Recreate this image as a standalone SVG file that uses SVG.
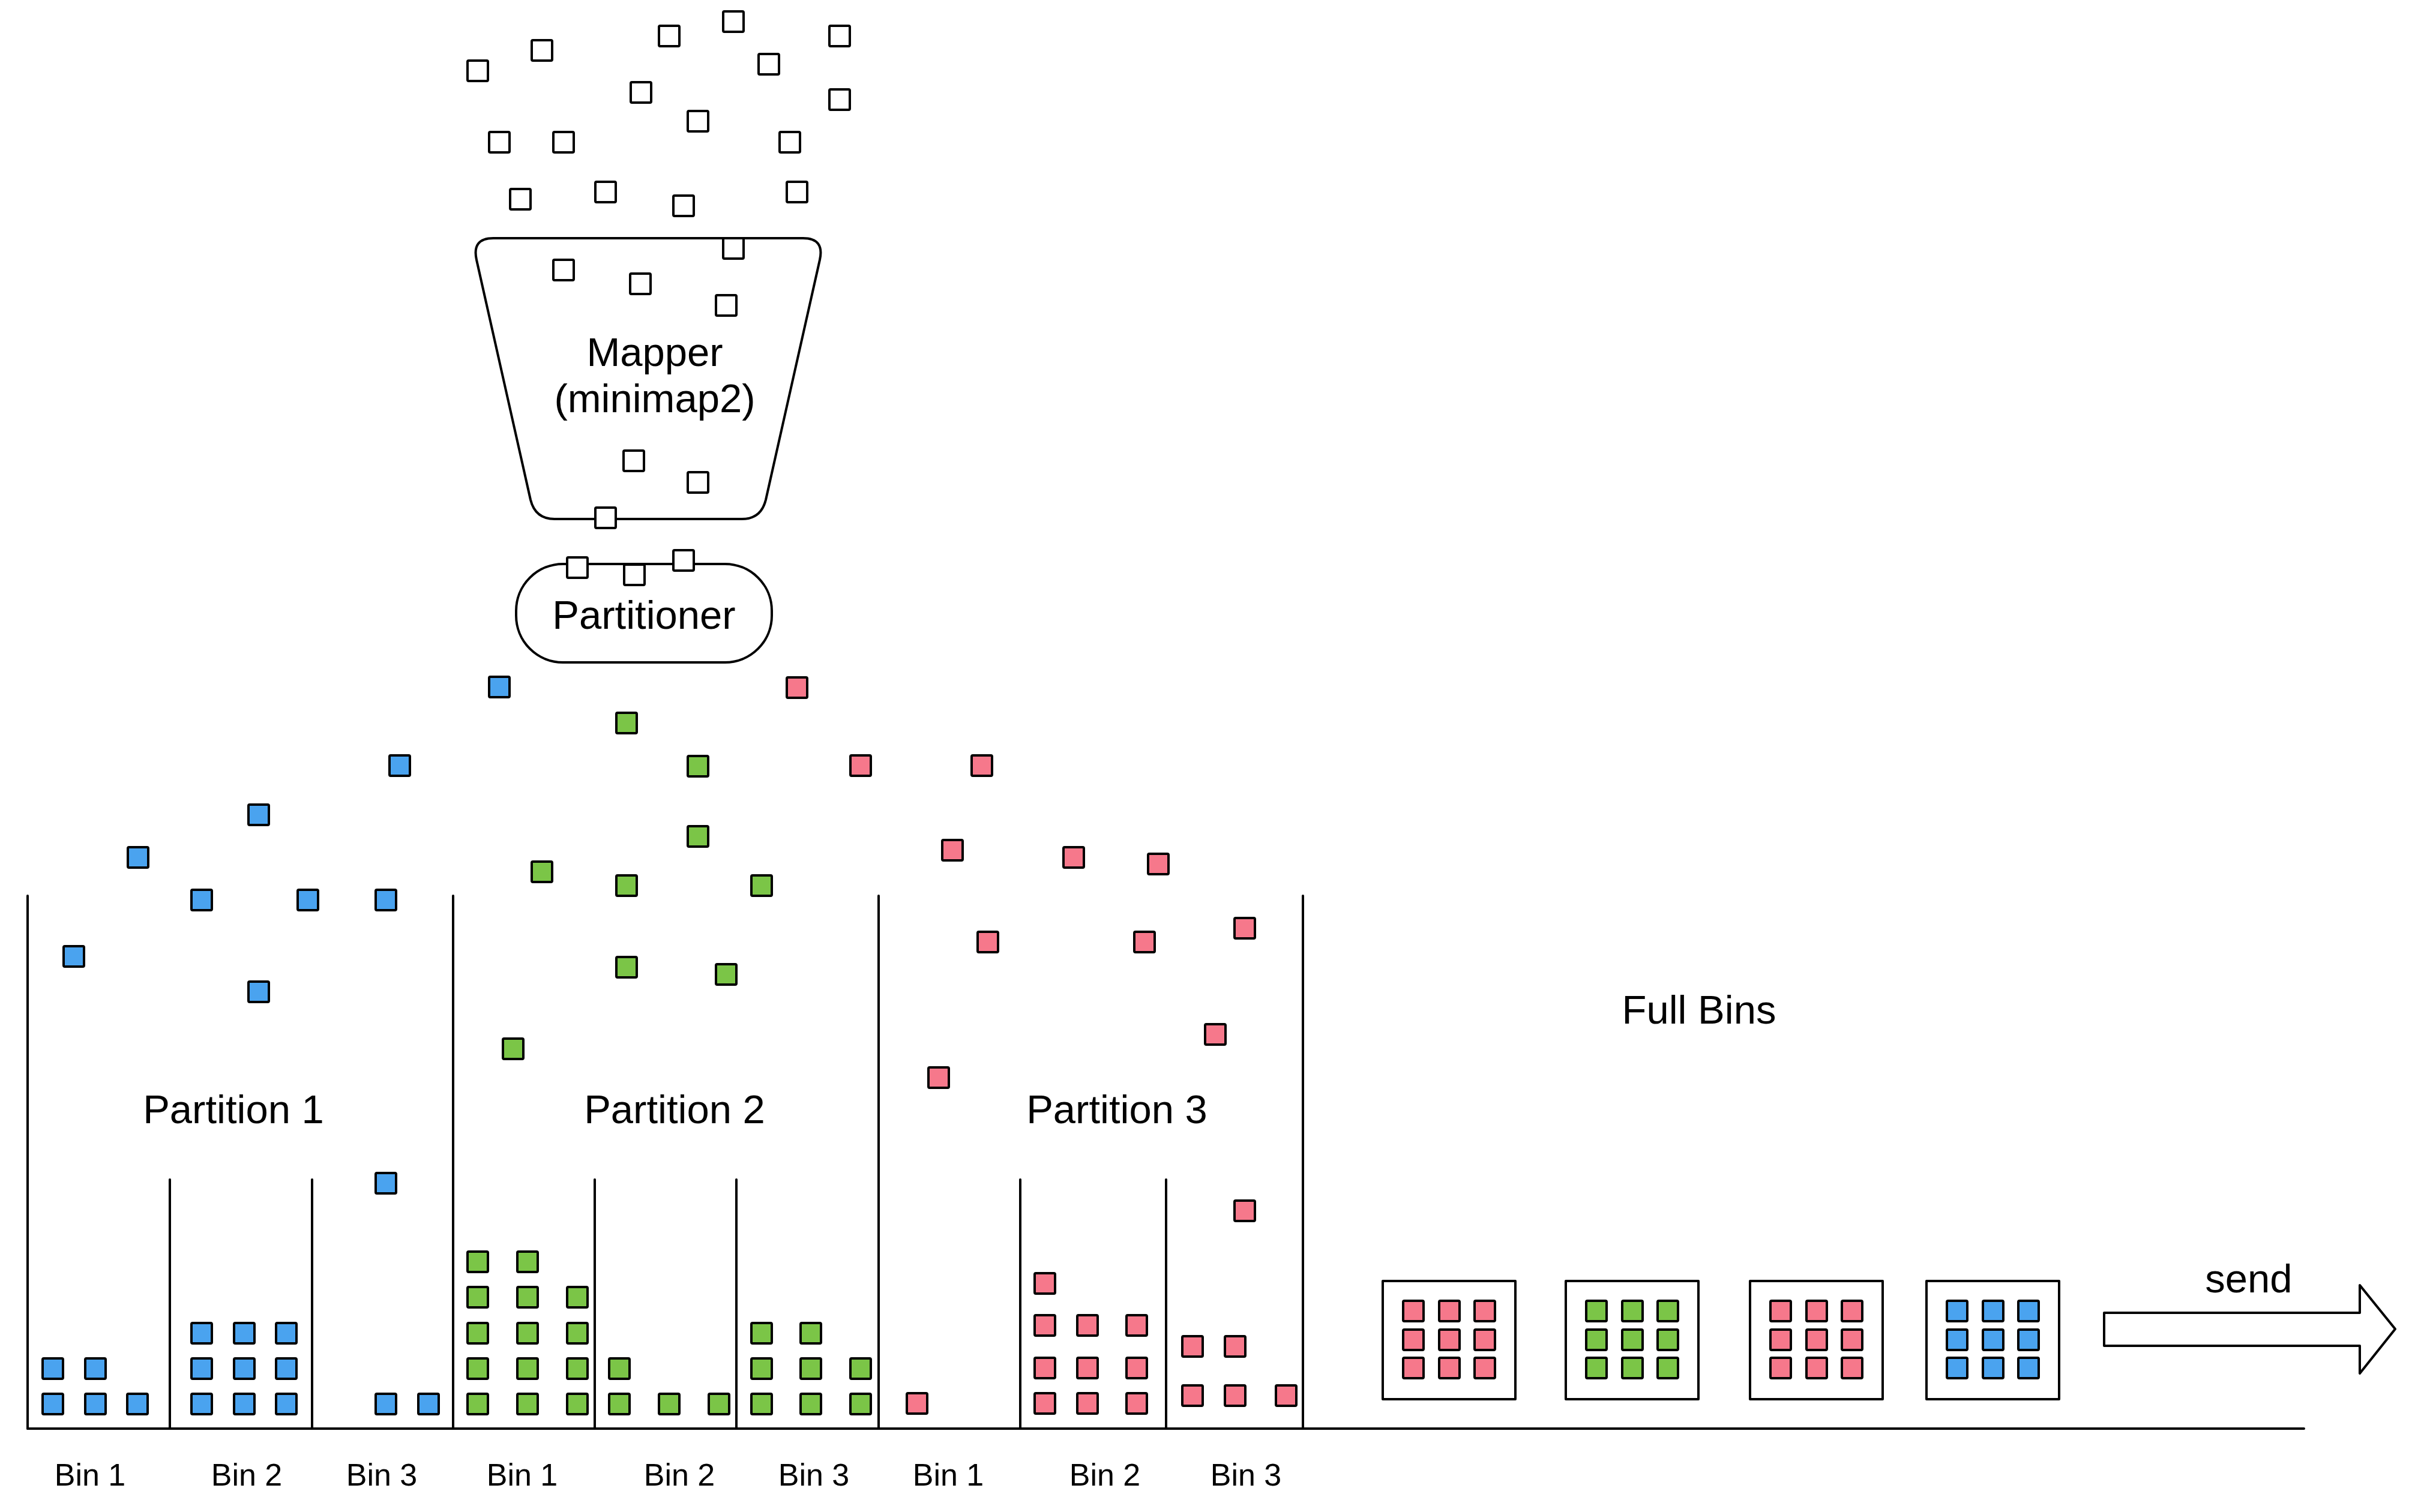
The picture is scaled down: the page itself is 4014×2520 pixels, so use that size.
<svg xmlns="http://www.w3.org/2000/svg" xmlns:xlink="http://www.w3.org/1999/xlink" width="4014" height="2520" viewBox="0 0 4014 2520">
<style>
  .ln{stroke:#000;stroke-width:4;fill:none;stroke-linecap:round}
  .shape{stroke:#000;stroke-width:4;fill:#fff;stroke-linejoin:round}
  .w{fill:#fff}
  .b{fill:#4aa3ef}
  .g{fill:#7bc547}
  .p{fill:#f6788b}
  text{font-family:"Liberation Sans",Arial,Helvetica,sans-serif;fill:#000;text-anchor:middle}
  .big{font-size:67px}
  .bin{font-size:52px}
</style>
<defs>
  <rect id="sq" x="-17" y="-17" width="34" height="34" rx="2" stroke="#000" stroke-width="4"/>
</defs>
<rect width="4014" height="2520" fill="#fff"/>

<g id="mapper">
  <path class="shape" d="M822,397 L1338,397 Q1374,397 1366,433 L1276,833 Q1268,865 1236,865 L924,865 Q892,865 884,833 L794,433 Q786,397 822,397 Z"/>
  <text class="big" x="1091" y="610">Mapper</text>
  <text class="big" x="1091" y="687">(minimap2)</text>
</g>

<g id="partitioner">
  <rect class="shape" x="860" y="940" width="426" height="164" rx="78" ry="78"/>
  <text class="big" x="1073" y="1048">Partitioner</text>
</g>

<g id="reads-unmapped">
  <use href="#sq" class="w" x="796" y="118"/>
  <use href="#sq" class="w" x="903" y="84"/>
  <use href="#sq" class="w" x="1115" y="60"/>
  <use href="#sq" class="w" x="1222" y="36"/>
  <use href="#sq" class="w" x="1399" y="60"/>
  <use href="#sq" class="w" x="1281" y="107"/>
  <use href="#sq" class="w" x="1068" y="154"/>
  <use href="#sq" class="w" x="1399" y="166"/>
  <use href="#sq" class="w" x="1163" y="202"/>
  <use href="#sq" class="w" x="832" y="237"/>
  <use href="#sq" class="w" x="939" y="237"/>
  <use href="#sq" class="w" x="1316" y="237"/>
  <use href="#sq" class="w" x="867" y="332"/>
  <use href="#sq" class="w" x="1009" y="320"/>
  <use href="#sq" class="w" x="1139" y="343"/>
  <use href="#sq" class="w" x="1328" y="320"/>
  <use href="#sq" class="w" x="939" y="450"/>
  <use href="#sq" class="w" x="1067" y="473"/>
  <use href="#sq" class="w" x="1222" y="414"/>
  <use href="#sq" class="w" x="1210" y="509"/>
  <use href="#sq" class="w" x="1056" y="768"/>
  <use href="#sq" class="w" x="1163" y="804"/>
  <use href="#sq" class="w" x="1009" y="863"/>
  <use href="#sq" class="w" x="962" y="946"/>
  <use href="#sq" class="w" x="1057" y="958"/>
  <use href="#sq" class="w" x="1139" y="934"/>
</g>

<g id="reads-falling">
  <use href="#sq" class="b" x="832" y="1145"/>
  <use href="#sq" class="b" x="666" y="1276"/>
  <use href="#sq" class="b" x="431" y="1358"/>
  <use href="#sq" class="b" x="230" y="1429"/>
  <use href="#sq" class="b" x="336" y="1500"/>
  <use href="#sq" class="b" x="513" y="1500"/>
  <use href="#sq" class="b" x="643" y="1500"/>
  <use href="#sq" class="b" x="123" y="1594"/>
  <use href="#sq" class="b" x="431" y="1653"/>
  <use href="#sq" class="b" x="643" y="1972"/>
  <use href="#sq" class="g" x="1044" y="1205"/>
  <use href="#sq" class="g" x="1163" y="1277"/>
  <use href="#sq" class="g" x="1163" y="1394"/>
  <use href="#sq" class="g" x="903" y="1453"/>
  <use href="#sq" class="g" x="1044" y="1476"/>
  <use href="#sq" class="g" x="1269" y="1476"/>
  <use href="#sq" class="g" x="1044" y="1612"/>
  <use href="#sq" class="g" x="1210" y="1624"/>
  <use href="#sq" class="g" x="855" y="1748"/>
  <use href="#sq" class="p" x="1328" y="1146"/>
  <use href="#sq" class="p" x="1434" y="1276"/>
  <use href="#sq" class="p" x="1636" y="1276"/>
  <use href="#sq" class="p" x="1587" y="1417"/>
  <use href="#sq" class="p" x="1789" y="1429"/>
  <use href="#sq" class="p" x="1930" y="1440"/>
  <use href="#sq" class="p" x="1646" y="1570"/>
  <use href="#sq" class="p" x="1907" y="1570"/>
  <use href="#sq" class="p" x="2074" y="1547"/>
  <use href="#sq" class="p" x="2025" y="1724"/>
  <use href="#sq" class="p" x="1564" y="1796"/>
  <use href="#sq" class="p" x="2074" y="2018"/>
</g>

<g id="partitions">
  <line class="ln" x1="46" y1="2381" x2="3839" y2="2381"/>
  <line class="ln" x1="46" y1="1493" x2="46" y2="2381"/>
  <line class="ln" x1="755" y1="1493" x2="755" y2="2381"/>
  <line class="ln" x1="1464" y1="1493" x2="1464" y2="2381"/>
  <line class="ln" x1="2171" y1="1493" x2="2171" y2="2381"/>
  <line class="ln" x1="283" y1="1966" x2="283" y2="2381"/>
  <line class="ln" x1="520" y1="1966" x2="520" y2="2381"/>
  <line class="ln" x1="991" y1="1966" x2="991" y2="2381"/>
  <line class="ln" x1="1227" y1="1966" x2="1227" y2="2381"/>
  <line class="ln" x1="1700" y1="1966" x2="1700" y2="2381"/>
  <line class="ln" x1="1943" y1="1966" x2="1943" y2="2381"/>
  <text class="big" x="389" y="1872">Partition 1</text>
  <text class="big" x="1124" y="1872">Partition 2</text>
  <text class="big" x="1861" y="1872">Partition 3</text>
</g>

<g id="p1-bin1">
  <use href="#sq" class="b" x="88" y="2340"/><use href="#sq" class="b" x="88" y="2281"/>
  <use href="#sq" class="b" x="159" y="2340"/><use href="#sq" class="b" x="159" y="2281"/>
  <use href="#sq" class="b" x="229" y="2340"/>
  <text class="bin" x="150" y="2476">Bin 1</text>
</g>
<g id="p1-bin2">
  <use href="#sq" class="b" x="336" y="2340"/><use href="#sq" class="b" x="336" y="2281"/><use href="#sq" class="b" x="336" y="2222"/>
  <use href="#sq" class="b" x="407" y="2340"/><use href="#sq" class="b" x="407" y="2281"/><use href="#sq" class="b" x="407" y="2222"/>
  <use href="#sq" class="b" x="477" y="2340"/><use href="#sq" class="b" x="477" y="2281"/><use href="#sq" class="b" x="477" y="2222"/>
  <text class="bin" x="411" y="2476">Bin 2</text>
</g>
<g id="p1-bin3">
  <use href="#sq" class="b" x="643" y="2340"/><use href="#sq" class="b" x="714" y="2340"/>
  <text class="bin" x="636" y="2476">Bin 3</text>
</g>

<g id="p2-bin1">
  <use href="#sq" class="g" x="796" y="2340"/><use href="#sq" class="g" x="796" y="2281"/><use href="#sq" class="g" x="796" y="2222"/><use href="#sq" class="g" x="796" y="2162"/><use href="#sq" class="g" x="796" y="2103"/>
  <use href="#sq" class="g" x="879" y="2340"/><use href="#sq" class="g" x="879" y="2281"/><use href="#sq" class="g" x="879" y="2222"/><use href="#sq" class="g" x="879" y="2162"/><use href="#sq" class="g" x="879" y="2103"/>
  <use href="#sq" class="g" x="962" y="2340"/><use href="#sq" class="g" x="962" y="2281"/><use href="#sq" class="g" x="962" y="2222"/><use href="#sq" class="g" x="962" y="2162"/>
  <text class="bin" x="870" y="2476">Bin 1</text>
</g>
<g id="p2-bin2">
  <use href="#sq" class="g" x="1032" y="2340"/><use href="#sq" class="g" x="1032" y="2281"/>
  <use href="#sq" class="g" x="1115" y="2340"/>
  <use href="#sq" class="g" x="1198" y="2340"/>
  <text class="bin" x="1132" y="2476">Bin 2</text>
</g>
<g id="p2-bin3">
  <use href="#sq" class="g" x="1269" y="2340"/><use href="#sq" class="g" x="1269" y="2281"/><use href="#sq" class="g" x="1269" y="2222"/>
  <use href="#sq" class="g" x="1351" y="2340"/><use href="#sq" class="g" x="1351" y="2281"/><use href="#sq" class="g" x="1351" y="2222"/>
  <use href="#sq" class="g" x="1434" y="2340"/><use href="#sq" class="g" x="1434" y="2281"/>
  <text class="bin" x="1356" y="2476">Bin 3</text>
</g>

<g id="p3-bin1">
  <use href="#sq" class="p" x="1528" y="2339"/>
  <text class="bin" x="1580" y="2476">Bin 1</text>
</g>
<g id="p3-bin2">
  <use href="#sq" class="p" x="1741" y="2339"/><use href="#sq" class="p" x="1741" y="2280"/><use href="#sq" class="p" x="1741" y="2209"/><use href="#sq" class="p" x="1741" y="2139"/>
  <use href="#sq" class="p" x="1812" y="2339"/><use href="#sq" class="p" x="1812" y="2280"/><use href="#sq" class="p" x="1812" y="2209"/>
  <use href="#sq" class="p" x="1894" y="2339"/><use href="#sq" class="p" x="1894" y="2280"/><use href="#sq" class="p" x="1894" y="2209"/>
  <text class="bin" x="1841" y="2476">Bin 2</text>
</g>
<g id="p3-bin3">
  <use href="#sq" class="p" x="1987" y="2244"/><use href="#sq" class="p" x="2058" y="2244"/>
  <use href="#sq" class="p" x="1987" y="2326"/><use href="#sq" class="p" x="2058" y="2326"/><use href="#sq" class="p" x="2143" y="2326"/>
  <text class="bin" x="2076" y="2476">Bin 3</text>
</g>

<text class="big" x="2831" y="1706">Full Bins</text>

<g id="full-bin-1" transform="translate(2304,2135)">
  <rect class="shape" x="0" y="0" width="221" height="197"/>
  <use href="#sq" class="p" x="51" y="50"/><use href="#sq" class="p" x="111" y="50"/><use href="#sq" class="p" x="170" y="50"/>
  <use href="#sq" class="p" x="51" y="98"/><use href="#sq" class="p" x="111" y="98"/><use href="#sq" class="p" x="170" y="98"/>
  <use href="#sq" class="p" x="51" y="145"/><use href="#sq" class="p" x="111" y="145"/><use href="#sq" class="p" x="170" y="145"/>
</g>
<g id="full-bin-2" transform="translate(2609,2135)">
  <rect class="shape" x="0" y="0" width="221" height="197"/>
  <use href="#sq" class="g" x="51" y="50"/><use href="#sq" class="g" x="111" y="50"/><use href="#sq" class="g" x="170" y="50"/>
  <use href="#sq" class="g" x="51" y="98"/><use href="#sq" class="g" x="111" y="98"/><use href="#sq" class="g" x="170" y="98"/>
  <use href="#sq" class="g" x="51" y="145"/><use href="#sq" class="g" x="111" y="145"/><use href="#sq" class="g" x="170" y="145"/>
</g>
<g id="full-bin-3" transform="translate(2916,2135)">
  <rect class="shape" x="0" y="0" width="221" height="197"/>
  <use href="#sq" class="p" x="51" y="50"/><use href="#sq" class="p" x="111" y="50"/><use href="#sq" class="p" x="170" y="50"/>
  <use href="#sq" class="p" x="51" y="98"/><use href="#sq" class="p" x="111" y="98"/><use href="#sq" class="p" x="170" y="98"/>
  <use href="#sq" class="p" x="51" y="145"/><use href="#sq" class="p" x="111" y="145"/><use href="#sq" class="p" x="170" y="145"/>
</g>
<g id="full-bin-4" transform="translate(3210,2135)">
  <rect class="shape" x="0" y="0" width="221" height="197"/>
  <use href="#sq" class="b" x="51" y="50"/><use href="#sq" class="b" x="111" y="50"/><use href="#sq" class="b" x="170" y="50"/>
  <use href="#sq" class="b" x="51" y="98"/><use href="#sq" class="b" x="111" y="98"/><use href="#sq" class="b" x="170" y="98"/>
  <use href="#sq" class="b" x="51" y="145"/><use href="#sq" class="b" x="111" y="145"/><use href="#sq" class="b" x="170" y="145"/>
</g>

<g id="send">
  <path class="shape" d="M3506,2188 L3932,2188 L3932,2142 L3991,2215 L3932,2289 L3932,2243 L3506,2243 Z"/>
  <text class="big" x="3747" y="2154">send</text>
</g>
</svg>
